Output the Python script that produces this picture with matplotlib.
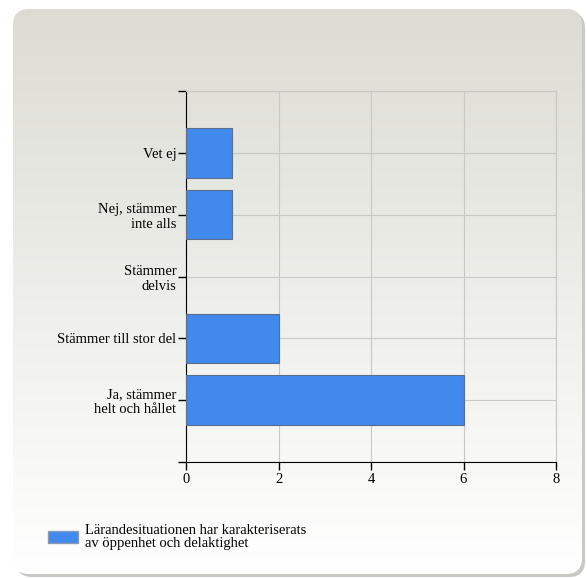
import matplotlib.pyplot as plt
import numpy as np
from matplotlib.patches import FancyBboxPatch, Patch

categories = ["Ja, stämmer\nhelt och hållet", "Stämmer till stor del",
              "Stämmer\ndelvis", "Nej, stämmer\ninte alls", "Vet ej"]
values = [6, 2, 0, 1, 1]
series_label = "Lärandesituationen har karakteriserats\nav öppenhet och delaktighet"
xticks = [0, 2, 4, 6, 8]

plt.rcParams['font.family'] = ['Liberation Serif', 'DejaVu Serif']

W, H = 587, 578
fig = plt.figure(figsize=(W / 100, H / 100), dpi=100)
fig.patch.set_facecolor("white")

# background panel with gradient and rounded corners
bg = fig.add_axes([0, 0, 1, 1])
bg.set_xlim(0, W)
bg.set_ylim(H, 0)
bg.axis("off")
shadow = FancyBboxPatch((16, 12), 569, 565, boxstyle="round,pad=0,rounding_size=16",
                        fc="#c8c8c4", ec="none", transform=bg.transData)
bg.add_patch(shadow)
panel = FancyBboxPatch((13, 9), 569, 565, boxstyle="round,pad=0,rounding_size=16",
                       fc="none", ec="none", transform=bg.transData)
bg.add_patch(panel)
grad = np.linspace(0, 1, 256).reshape(-1, 1)
top = np.array([0xdc, 0xdc, 0xd4]) / 255
bot = np.array([1.0, 1.0, 1.0])
img = top + (bot - top) * grad[..., None]
im = bg.imshow(img, extent=[13, 582, 574, 9], aspect="auto", zorder=1)
im.set_clip_path(panel)

ax = fig.add_axes([186 / W, 1 - 462 / H, 370 / W, 371 / H])
ax.set_facecolor("none")
ypos = np.arange(1, len(categories) + 1)
lw = [0.8 if v > 0 else 0 for v in values]
ax.barh(ypos, values, height=0.8, color="#4189ec", edgecolor="#5a6e8a", linewidth=lw, zorder=3)

ax.set_xlim(0, 8)
ax.set_ylim(0, 6)
ax.set_xticks(xticks)
ax.set_xticklabels([str(t) for t in xticks], fontsize=10.5)
ax.set_yticks(np.arange(0, 7))
ax.set_yticklabels([""] + categories + [""], fontsize=10.5, linespacing=1.15)
ax.grid(True, color="#c8c8c4", linewidth=0.8, zorder=0)
for s in ["top", "right"]:
    ax.spines[s].set_color("#c8c8c4")
    ax.spines[s].set_linewidth(0.8)
ax.spines["left"].set_color("black")
ax.spines["bottom"].set_color("black")
ax.tick_params(axis="both", length=6, width=1, color="black", pad=2)
ax.tick_params(axis="y", pad=1)

leg = fig.legend(handles=[Patch(facecolor="#4189ec", edgecolor="#8a9ab0", label=series_label)],
                 loc="upper left", bbox_to_anchor=(35 / W, 1 - 511 / H), frameon=False,
                 fontsize=10.5, handlelength=2.05, handleheight=0.85, handletextpad=0.5)
for t in leg.get_texts():
    t.set_linespacing(1.0)

fig.savefig("out.png", dpi=100)
